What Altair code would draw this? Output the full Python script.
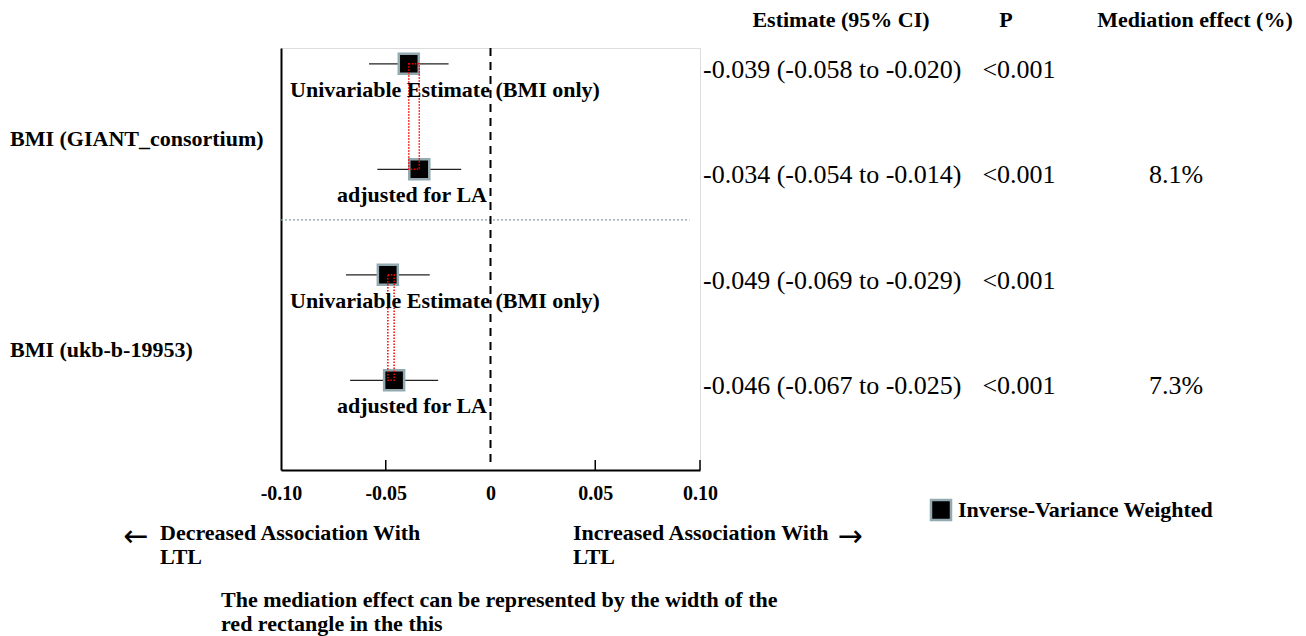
import altair as alt
import pandas as pd

# ---- data ----
exposures = ["BMI (GIANT_consortium)", "BMI (GIANT_consortium)", "BMI (ukb-b-19953)", "BMI (ukb-b-19953)"]
models = ["Univariable Estimate (BMI only)", "adjusted for LA", "Univariable Estimate (BMI only)", "adjusted for LA"]
estimates = [-0.039, -0.034, -0.049, -0.046]
ci_low = [-0.058, -0.054, -0.069, -0.067]
ci_high = [-0.020, -0.014, -0.029, -0.025]
p_values = ["<0.001", "<0.001", "<0.001", "<0.001"]
mediation = ["", "8.1%", "", "7.3%"]
row_index = [0, 1, 2, 3]

# mediation rectangles (univariable -> adjusted)
rect_x1 = [estimates[0], estimates[2]]
rect_x2 = [estimates[1], estimates[3]]
rect_y1 = [row_index[0], row_index[2]]
rect_y2 = [row_index[1], row_index[3]]

tick_values = [-0.10, -0.05, 0.0, 0.05, 0.10]
inner_ticks = [-0.05, 0.05, 0.10]

df = pd.DataFrame({
    "exposure": exposures, "model": models, "est": estimates,
    "lo": ci_low, "hi": ci_high, "p": p_values, "med": mediation, "row": row_index,
})
df["label"] = [f"{e:.3f} ({l:.3f} to {h:.3f})" for e, l, h in zip(estimates, ci_low, ci_high)]
rect_df = pd.DataFrame({"x1": rect_x1, "x2": rect_x2, "y1": rect_y1, "y2": rect_y2})
grp_df = df.groupby("exposure", as_index=False)["row"].mean()

SERIF = "Liberation Serif"
W, H = 419, 422

xs = alt.Scale(domain=[-0.1, 0.1], nice=False, zero=False)
ys = alt.Scale(domain=[-0.15, 3.85], reverse=True, nice=False, zero=False)

X = alt.X("est:Q", scale=xs, axis=alt.Axis(
    values=tick_values, ticks=False, grid=False, domainColor="black", domainWidth=2,
    labelFont=SERIF, labelFontWeight="bold", labelFontSize=20, labelColor="black",
    labelPadding=13,
    labelExpr="datum.value == 0 ? '0' : replace(format(datum.value, '.2f'), '\u2212', '-')",
    title=None, labelFlush=False, labelOverlap=False))
Y = alt.Y("row:Q", scale=ys, axis=alt.Axis(
    labels=False, ticks=False, grid=False, domainColor="black", domainWidth=2, title=None))

base = alt.Chart(df)

ci = base.mark_rule(color="#222222", strokeWidth=1.2).encode(
    x=alt.X("lo:Q", scale=xs), x2="hi:Q", y=alt.Y("row:Q", scale=ys))
sq = base.mark_square(size=400, color="black", opacity=1, stroke="#93aab0", strokeWidth=2.5).encode(x=X, y=Y)

rects = alt.Chart(rect_df).mark_rect(fill=None, fillOpacity=0, stroke="red", strokeWidth=1.5,
                                     strokeDash=[1.5, 1.5]).encode(
    x=alt.X("x1:Q", scale=xs), x2="x2:Q", y=alt.Y("y1:Q", scale=ys), y2="y2:Q")

zero_line = alt.Chart(pd.DataFrame({"z": [0.0]})).mark_rule(
    color="black", strokeWidth=2, strokeDash=[8, 6]).encode(
    x=alt.X("z:Q", scale=xs), y=alt.value(0), y2=alt.value(H - 4))

sep = alt.Chart(pd.DataFrame({"a": [-0.1], "b": [0.095], "r": [1.48]})).mark_rule(
    color="#8aa0a8", strokeWidth=1.2, strokeDash=[2, 2]).encode(
    x=alt.X("a:Q", scale=xs), x2="b:Q", y=alt.Y("r:Q", scale=ys))

ticks = alt.Chart(pd.DataFrame({"t": inner_ticks})).mark_rule(color="black", strokeWidth=1.5).encode(
    x=alt.X("t:Q", scale=xs), y=alt.value(H), y2=alt.value(H - 10))

uni_lab = base.transform_filter(alt.datum.row % 2 == 0).mark_text(
    font=SERIF, fontWeight="bold", fontSize=22, color="black", align="center", baseline="middle", dy=26
).encode(x=alt.value(164), y=alt.Y("row:Q", scale=ys), text="model:N")
adj_lab = base.transform_filter(alt.datum.row % 2 == 1).mark_text(
    font=SERIF, fontWeight="bold", fontSize=22, color="black", align="center", baseline="middle", dy=26
).encode(x=alt.value(131), y=alt.Y("row:Q", scale=ys), text="model:N")

grp_lab = alt.Chart(grp_df).mark_text(
    font=SERIF, fontWeight="bold", fontSize=22, color="black", align="left", baseline="middle", dy=22
).encode(x=alt.value(-271), y=alt.Y("row:Q", scale=ys), text="exposure:N")

est_txt = base.mark_text(font=SERIF, fontSize=26, color="black", align="left", baseline="middle", dy=6
                         ).encode(x=alt.value(422), y=alt.Y("row:Q", scale=ys), text="label:N")
p_txt = base.mark_text(font=SERIF, fontSize=26, color="black", align="center", baseline="middle", dy=6
                       ).encode(x=alt.value(738), y=alt.Y("row:Q", scale=ys), text="p:N")
med_txt = base.mark_text(font=SERIF, fontSize=26, color="black", align="center", baseline="middle", dy=6
                         ).encode(x=alt.value(895), y=alt.Y("row:Q", scale=ys), text="med:N")


def label(txt, x, y, size=22, weight="bold", align="left", font=SERIF):
    return alt.Chart(pd.DataFrame({"t": [txt]})).mark_text(
        font=font, fontWeight=weight, fontSize=size, color="black", align=align, baseline="middle"
    ).encode(x=alt.value(x), y=alt.value(y), text="t:N")


headers = [
    label("Estimate (95% CI)", 560, -28, align="center"),
    label("P", 725, -28, align="center"),
    label("Mediation effect (%)", 914, -28, align="center"),
]

legend_sq = alt.Chart(pd.DataFrame({"t": ["IVW"]})).mark_square(
    size=400, color="black", opacity=1, stroke="#93aab0", strokeWidth=2.5
).encode(x=alt.value(660), y=alt.value(462))

bottom = [
    label("Inverse-Variance Weighted", 677, 462),
    label("\u2190", -145, 489, size=30, weight="normal", align="center", font="DejaVu Sans"),
    label("Decreased Association With", -121, 485),
    label("LTL", -121, 509),
    label("Increased Association With", 292, 485),
    label("LTL", 292, 509),
    label("\u2192", 569, 489, size=30, weight="normal", align="center", font="DejaVu Sans"),
    label("The mediation effect can be represented by the width of the", -60, 552),
    label("red rectangle in the this", -60, 576),
]

chart = alt.layer(
    sep, zero_line, ci, sq, rects, ticks, uni_lab, adj_lab, grp_lab, est_txt, p_txt, med_txt,
    *headers, legend_sq, *bottom
).properties(
    width=W, height=H,
    padding={"left": 281, "top": 48, "right": 1306 - 281 - W, "bottom": 636 - 48 - H},
    autosize=alt.AutoSizeParams(type="none"),
).configure_view(strokeWidth=0).configure(background="white")

chart.save("out.html", embed_options={"renderer": "svg", "actions": False})
